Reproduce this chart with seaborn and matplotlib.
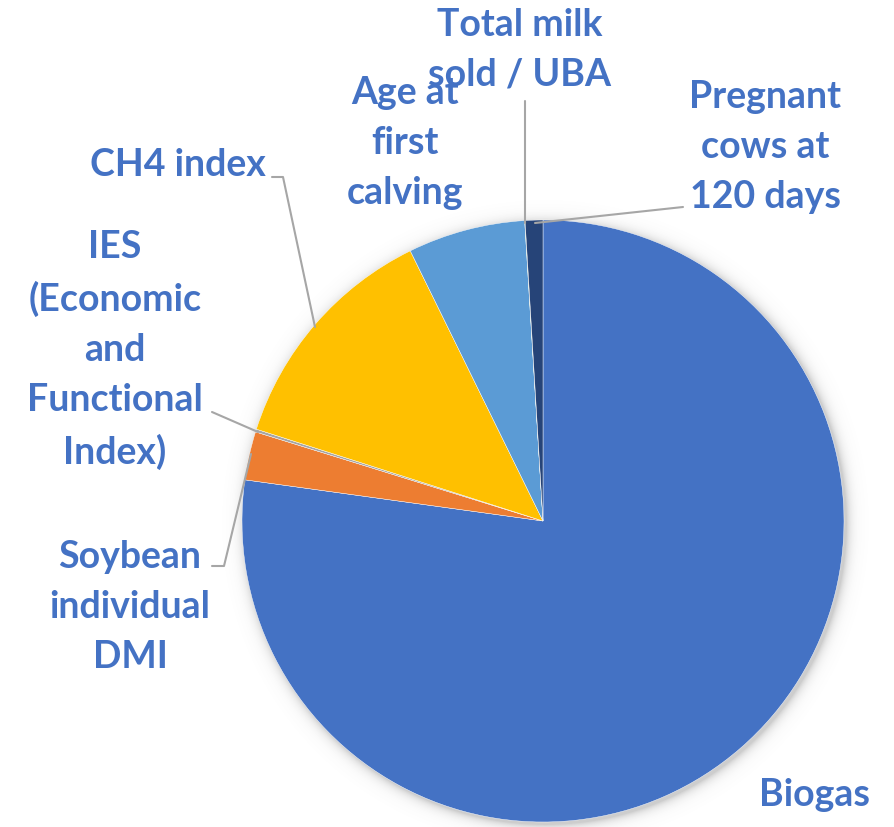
import numpy as np
import matplotlib
matplotlib.use("Agg")
import matplotlib.pyplot as plt
import seaborn as sns

# Share of each trait (percent)
labels = ["Biogas", "Soybean\nindividual\nDMI", "IES\n(Economic\nand\nFunctional\nIndex)",
          "CH4 index", "Age at\nfirst\ncalving", "Total milk\nsold / UBA",
          "Pregnant\ncows at\n120 days"]
values = [77.2, 2.6, 0.15, 12.8, 6.3, 0.02, 0.95]
colors = ["#4472C4", "#ED7D31", "#A5A5A5", "#FFC000", "#5B9BD5", "#70AD47", "#264478"]

sns.set_theme(style="white")
plt.rcParams["font.family"] = ["Lato", "DejaVu Sans"]

W, H = 894, 828
fig = plt.figure(figsize=(W / 100, H / 100), dpi=100)
ax = fig.add_axes([0, 0, 1, 1])

cx, cy, R = 543, H - 522, 301

# soft drop shadow around the pie
yy, xx = np.mgrid[0:H, 0:W]
d = np.hypot(xx - (cx + 2), (H - yy) - (cy - 2))
alpha = np.clip(0.35 * np.exp(-np.clip(d - R, 0, None) / 5.0), 0, 0.35)
alpha[d < R - 4] = 0
shadow = np.zeros((H, W, 4))
shadow[..., :3] = 0.45
shadow[..., 3] = alpha
ax.imshow(shadow, extent=(0, W, 0, H), origin="upper", zorder=0, interpolation="bilinear")

ax.pie(values, colors=colors, startangle=90, counterclock=False,
       center=(cx, cy), radius=R,
       wedgeprops=dict(edgecolor="white", linewidth=0.3), frame=True)
ax.set_xlim(0, W)
ax.set_ylim(0, H)
ax.set_aspect("equal")
ax.axis("off")

txt_color = "#4472C4"
label_pos = {
    "Biogas": (815, 795),
    "Soybean\nindividual\nDMI": (130, 607),
    "IES\n(Economic\nand\nFunctional\nIndex)": (115, 350),
    "CH4 index": (178, 165),
    "Age at\nfirst\ncalving": (405, 143),
    "Total milk\nsold / UBA": (520, 50),
    "Pregnant\ncows at\n120 days": (765, 147),
}
for lab in labels:
    x, y = label_pos[lab]
    ax.text(x, H - y, lab, ha="center", va="center", color=txt_color,
            fontsize=27, fontweight="bold", linespacing=1.57, zorder=5)

# leader lines
leaders = [
    [(272, 178), (283, 178), (315, 328)],
    [(212, 413), (258, 433)],
    [(212, 567), (224, 567), (251, 455)],
    [(525, 102), (525, 224)],
    [(683, 208), (535, 224)],
]
for pts in leaders:
    xs = [p[0] for p in pts]
    ys = [H - p[1] for p in pts]
    ax.plot(xs, ys, color="#A6A6A6", lw=1.5, zorder=4)

fig.savefig("out.png", dpi=100)
